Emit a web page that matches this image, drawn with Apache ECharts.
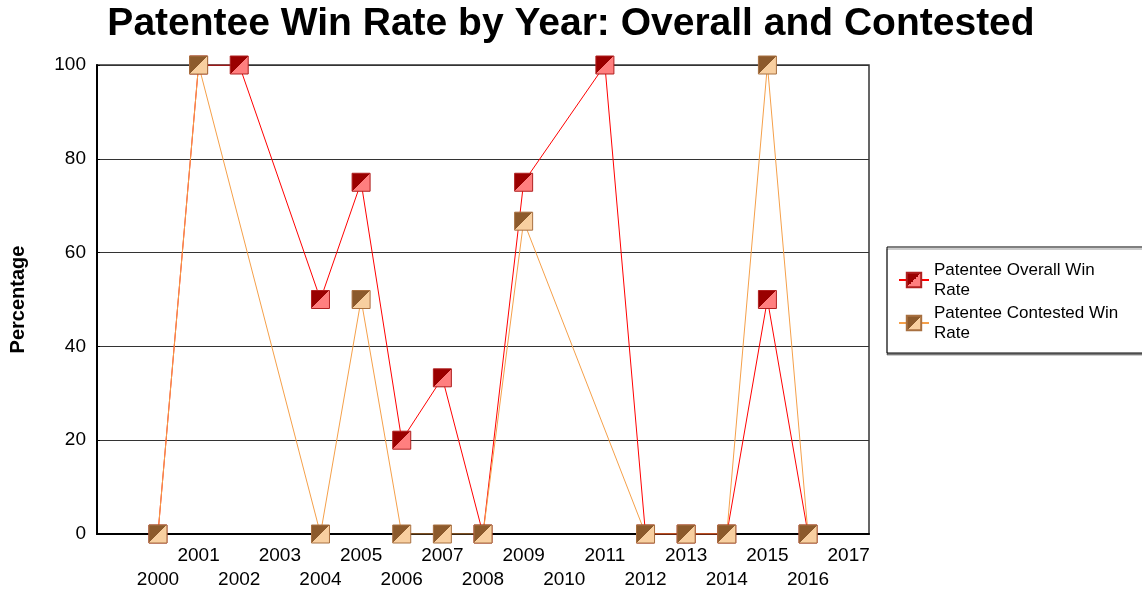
<!DOCTYPE html>
<html>
<head>
<meta charset="utf-8">
<script src="https://cdn.jsdelivr.net/npm/echarts@6/dist/echarts.min.js"></script>
<style>
    html, body { margin: 0; padding: 0; background: #fff; }
    #chart { width: 1142px; height: 592px; }
</style>
</head>
<body>
<div id="chart"></div>
<script>
// 1999 is only an empty slot so the first year sits 1.5 steps from the left edge
const years = ['1999', '2000', '2001', '2002', '2003', '2004', '2005', '2006', '2007', '2008',
    '2009', '2010', '2011', '2012', '2013', '2014', '2015', '2016', '2017'];
const overallRate = ['-', 0, 100, 100, '-', 50, 75, 20, 33.3, 0, 75, '-', 100, 0, 0, 0, 50, 0, '-'];
const contestedRate = ['-', 0, 100, '-', '-', 0, 50, 0, 0, 0, 66.7, '-', '-', 0, 0, 0, 100, 0, '-'];
const yTicks = [0, 20, 40, 60, 80, 100];

const FONT = '"Liberation Sans", Arial, sans-serif';

// square marker split on the diagonal: dark top-left, light bottom-right
function splitSquare(dark, light) {
    return new echarts.graphic.LinearGradient(0, 0, 1, 1, [
        { offset: 0, color: dark },
        { offset: 0.5, color: dark },
        { offset: 0.5, color: light },
        { offset: 1, color: light }
    ]);
}

const myChart = echarts.init(document.getElementById('chart'));

const option = {
    animation: false,
    backgroundColor: '#fff',
    textStyle: { fontFamily: FONT },
    title: {
        text: 'Patentee Win Rate by Year: Overall and Contested',
        left: 'center',
        top: 0,
        textStyle: { fontFamily: FONT, fontSize: 39, fontWeight: 'bold', color: '#000' }
    },
    legend: {
        orient: 'vertical',
        left: 887,
        top: 247,
        data: ['Patentee Overall Win Rate', 'Patentee Contested Win Rate'],
        formatter: function (name) {
            return name.replace(' Rate', '\nRate');
        },
        itemWidth: 30,
        itemHeight: 18,
        itemGap: 3,
        padding: [13, 40, 10, 11],
        backgroundColor: '#fff',
        borderColor: '#000',
        borderWidth: 1,
        shadowColor: 'rgba(0,0,0,0.4)',
        shadowOffsetX: 0,
        shadowOffsetY: 2,
        textStyle: { fontFamily: FONT, fontSize: 17, color: '#000', lineHeight: 20 }
    },
    grid: {
        left: 97,
        right: 273,
        top: 65,
        bottom: 57,
        show: true,
        borderColor: '#333',
        borderWidth: 1.5
    },
    xAxis: {
        type: 'category',
        data: years,
        boundaryGap: true,
        axisLine: { lineStyle: { color: '#000', width: 2 } },
        axisTick: { show: false },
        axisLabel: {
            interval: 0,
            margin: 10,
            fontSize: 19,
            color: '#000',
            lineHeight: 24,
            formatter: function (v) {
                if (v === '1999') return '';
                return (+v % 2 === 1) ? v + '\n' : '\n' + v;
            }
        }
    },
    yAxis: {
        type: 'value',
        min: yTicks[0],
        max: yTicks[yTicks.length - 1],
        interval: 20,
        name: 'Percentage',
        nameLocation: 'middle',
        nameGap: 69,
        nameTextStyle: { fontFamily: FONT, fontSize: 20, fontWeight: 'bold', color: '#000' },
        axisLine: { show: true, lineStyle: { color: '#000', width: 2 } },
        axisTick: { show: true, inside: true, length: 3, lineStyle: { color: '#000' } },
        axisLabel: { fontSize: 19, color: '#000', margin: 11 },
        splitLine: { lineStyle: { color: '#333', width: 1 } }
    },
    series: [
        {
            name: 'Patentee Overall Win Rate',
            type: 'line',
            data: overallRate,
            connectNulls: true,
            symbol: 'rect',
            symbolSize: 18,
            lineStyle: { color: '#ff0000', width: 1 },
            itemStyle: {
                color: splitSquare('#9a0000', '#ff7f7f'),
                borderColor: '#b02020',
                borderWidth: 1
            }
        },
        {
            type: 'scatter',
            data: overallRate,
            symbol: 'rect',
            symbolSize: 4,
            silent: true,
            itemStyle: { color: '#ff0000' }
        },
        {
            name: 'Patentee Contested Win Rate',
            type: 'line',
            data: contestedRate,
            connectNulls: true,
            symbol: 'rect',
            symbolSize: 18,
            lineStyle: { color: '#f5a04a', width: 1 },
            itemStyle: {
                color: splitSquare('#8c5a2c', '#f8cfa0'),
                borderColor: '#a87040',
                borderWidth: 1
            }
        },
        {
            type: 'scatter',
            data: contestedRate,
            symbol: 'rect',
            symbolSize: 4,
            silent: true,
            itemStyle: { color: '#f0a050' }
        }
    ]
};

myChart.setOption(option);
</script>
</body>
</html>
